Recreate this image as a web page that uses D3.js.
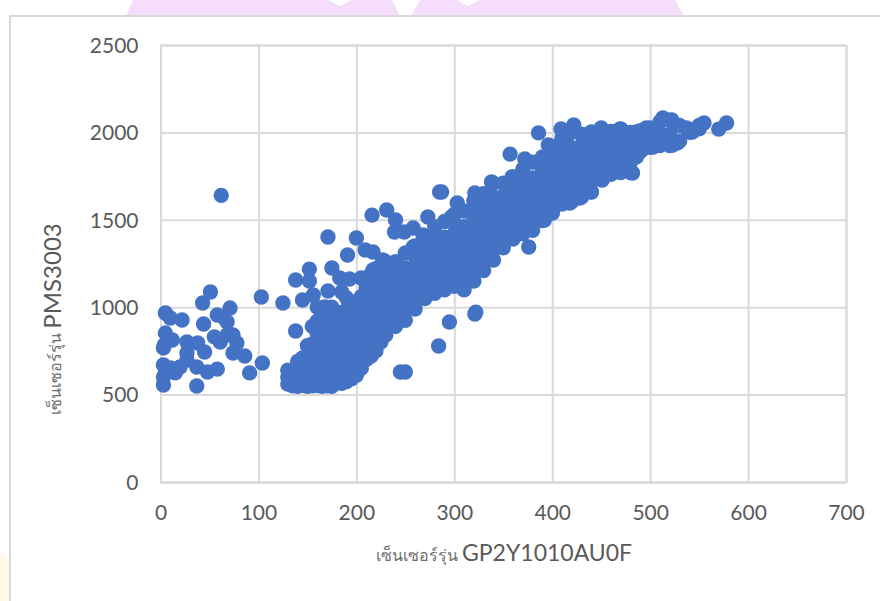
<!DOCTYPE html>
<html><head><meta charset="utf-8">
<script src="https://cdn.jsdelivr.net/npm/d3@7"></script>
<style>
html,body{margin:0;padding:0;background:#fff;overflow:hidden}
svg{display:block}
text{font-family:Lato,"Open Sans",sans-serif;fill:#595959}
.tick text{font-size:21px}
</style></head><body><div id="c"></div>
<script>
const xTicks=[0,100,200,300,400,500,600,700];
const yTicks=[0,500,1000,1500,2000,2500];
const xTitleThai="เซ็นเซอร์รุ่น ";
const xTitleLatin="GP2Y1010AU0F";
const yTitleThai="เซ็นเซอร์รุ่น ";
const yTitleLatin="PMS3003";
// isolated readings: GP2Y1010AU0F, PMS3003
const isolatedX=[62,5,10,22,43,51,103,44,58,71,68,64,55,61,68,74,78,74,86,104,91,58,48,37,37,27,38,45,27,27,5,12,3,4,3,5,15,20,3,3,10,
171,200,191,216,231,240,239,258,249,273,268,258,285,209,217,227,175,152,152,138,183,193,205,217,171,156,145,125,138,168,160,190,185,284,245,250,295,321,322,
386,409,422,396,357,372,386,338,359,321,287,303,297,392,376,349,400,418,428,440,451,482,513,522,555,578,570,543,537,528,523,503,494,486,469,450,440,486,496,415];
const isolatedY=[1640,967,938,927,1024,1087,1058,904,955,995,915,944,830,801,841,841,795,738,721,681,624,646,629,658,549,801,795,744,738,698,852,812,767,784,669,624,624,658,555,600,652,
1402,1396,1299,1527,1556,1499,1430,1453,1430,1516,1413,1344,1659,1327,1316,1270,1224,1218,1150,1156,1167,1161,1167,1213,1093,1070,1041,1024,864,1001,1001,1053,1087,778,629,629,915,961,972,
1997,2020,2042,1928,1876,1848,1825,1716,1745,1653,1659,1596,1516,1499,1344,1344,1539,1596,1625,1659,1728,1768,2082,2071,2054,2054,2019,2002,2025,1940,1928,1916,1911,1860,2019,2025,2002,2002,2025,1939];
// dense cloud: readings grouped by GP2Y1010AU0F value
const cloudX=[130,135,140,145,150,155,160,165,170,175,180,185,190,195,200,205,210,215,220,225,230,240,250,260,270,280,290,300,310,320,330,340,350,360,370,380,390,400,410,420,430,440,450,460,470,480,490,500,510,520,530,540,550];
const cloudY=[
[560,600,640],[550,590,630],[548,590,640,690],[552,600,650,710],[548,590,640,700,780],[550,600,660,720,790,890],
[552,610,670,730,790,850,920],[548,600,660,720,780,840,900,965],[550,610,670,730,790,850,910,985],[548,600,660,720,780,840,900,960,1000],
[570,630,690,750,810,870,930,965],[565,620,680,740,800,860,920,970],[575,630,690,750,810,870,930,985],[590,650,710,770,830,890,950,1010],
[610,670,730,790,850,910,970,1030],[650,710,770,830,890,950,1010,1060],[700,760,820,880,940,1000,1060,1110],[720,780,840,900,960,1020,1080,1130,1190],
[750,810,870,930,990,1050,1110,1170,1220],[800,860,920,980,1040,1100,1160,1240],[840,900,960,1020,1080,1140,1200,1260],
[890,950,1010,1070,1130,1190,1260],[925,985,1045,1105,1165,1225,1310],[990,1050,1110,1170,1230,1290,1350],[1050,1110,1170,1230,1290,1350,1400],
[1080,1140,1200,1260,1320,1380,1460],[1100,1160,1220,1280,1340,1400,1490],[1120,1180,1240,1300,1360,1420,1480,1530],[1100,1160,1220,1280,1340,1400,1460,1550],
[1150,1210,1270,1330,1390,1450,1510,1570,1610],[1210,1270,1330,1390,1450,1510,1570,1650],[1270,1330,1390,1450,1510,1570,1630,1710],
[1340,1400,1460,1520,1580,1640,1710],[1390,1450,1510,1570,1630,1690,1745],[1420,1480,1540,1600,1660,1720,1790],[1440,1500,1560,1620,1680,1740,1830],
[1495,1555,1615,1675,1735,1795,1860],[1540,1600,1660,1720,1780,1840,1920],[1590,1650,1710,1770,1830,1890,1970],[1605,1665,1725,1785,1845,1905,2000],
[1630,1690,1750,1810,1870,1930,1990],[1660,1720,1780,1840,1900,1960,2000],[1730,1790,1850,1910,1970,2020],[1760,1820,1880,1940,2005],
[1770,1830,1890,1950,2020],[1770,1830,1890,1950,2000],[1890,1950,2010],[1915,1970,2025],[1925,1990,2060],[1925,1990,2070],[1950,2040],[2000,2015],[2020,2040]];

const W=880,H=601,plotLeft=160.5,plotRight=846,plotTop=45,plotBottom=482;
const x=d3.scaleLinear().domain([0,700]).range([plotLeft,plotRight]);
const y=d3.scaleLinear().domain([0,2500]).range([plotBottom,plotTop]);
const svg=d3.select("#c").append("svg").attr("width",W).attr("height",H);

const deco=svg.append("g");
deco.append("path").attr("fill","#F6DDFC").attr("d","M126,16L133,0H328L340,6L352,0H392L400,16Z");
deco.append("path").attr("fill","#F6DDFC").attr("d","M411,16L420,0H457L468,6L480,0H675L684,16Z");
deco.append("path").attr("fill","#FFF9E8").attr("d","M0,552L9,557V601H0Z");
svg.append("rect").attr("x",10).attr("y",16).attr("width",W).attr("height",H).attr("fill","#fff").attr("stroke","#D9D9D9").attr("stroke-width",2);

const fmt=d3.format("d");
const xAxis=svg.append("g").attr("transform",`translate(0,${plotBottom})`)
  .call(d3.axisBottom(x).tickValues(xTicks).tickFormat(fmt).tickSize(plotTop-plotBottom).tickPadding(0));
xAxis.select(".domain").attr("stroke","#D9D9D9").attr("stroke-width",2);
xAxis.selectAll(".tick line").attr("stroke","#D9D9D9").attr("stroke-width",2);
xAxis.selectAll(".tick text").attr("y",31).attr("dy","0.35em").attr("fill","#595959");
const yAxis=svg.append("g").attr("transform",`translate(${plotLeft},0)`)
  .call(d3.axisLeft(y).tickValues(yTicks).tickFormat(fmt).tickSize(plotLeft-plotRight).tickPadding(0));
yAxis.select(".domain").attr("stroke","#D9D9D9").attr("stroke-width",2);
yAxis.selectAll(".tick line").attr("stroke","#D9D9D9").attr("stroke-width",2);
yAxis.selectAll(".tick text").attr("x",-22).attr("dy","0.35em").attr("fill","#595959");

const points=isolatedX.map((v,i)=>[v,isolatedY[i]]);
cloudX.forEach((v,i)=>cloudY[i].forEach(w=>points.push([v,w])));
svg.append("g").selectAll("circle").data(points).join("circle")
  .attr("cx",d=>x(d[0])).attr("cy",d=>y(d[1])).attr("r",7.7).attr("fill","#4472C4");

const xt=svg.append("text").attr("x",504).attr("y",561).attr("text-anchor","middle");
xt.append("tspan").attr("font-size",16).attr("fill","#6e6e6e").text(xTitleThai);
xt.append("tspan").attr("font-size",23).text(xTitleLatin);
const yt=svg.append("text").attr("transform","translate(61,319) rotate(-90)").attr("text-anchor","middle");
yt.append("tspan").attr("font-size",16).attr("fill","#6e6e6e").text(yTitleThai);
yt.append("tspan").attr("font-size",24).text(yTitleLatin);
</script></body></html>
